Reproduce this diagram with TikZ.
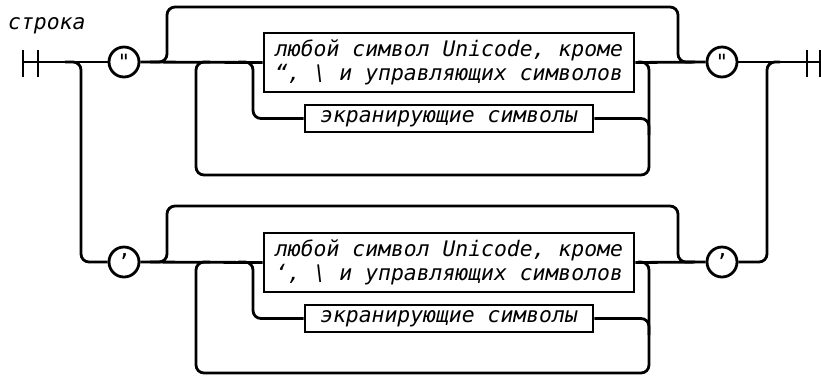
\documentclass[tikz,border=0pt]{standalone}
\usepackage{fontspec}
\usepackage{tikz}
\usetikzlibrary{positioning}
\newfontfamily\rrfont{DejaVu Sans Mono}

\begin{document}
\begin{tikzpicture}[
      x=1pt, y=-1pt,
      rail/.style={line width=2.8pt, rounded corners=8pt},
      bar/.style={line width=2.8pt},
      term/.style={draw, circle, line width=2.8pt, minimum size=30pt, inner sep=0pt, font=\fontsize{21}{21}\selectfont\rrfont},
      nterm/.style={draw, line width=2.6pt, inner sep=0pt, align=left, font=\fontsize{21.4}{24}\selectfont\rrfont\itshape},
      title/.style={anchor=base west, inner sep=0pt, font=\fontsize{21.4}{24}\selectfont\rrfont\itshape}
  ]
    \useasboundingbox (0,0) rectangle (821,376);
    \node[title] (name) at (8,29) {строка};

    % ends
    \coordinate (in) at (23,62);
    \coordinate (out) at (820,62);
    \draw[bar] (23,50) -- (23,77);
    \draw[bar] (38,50) -- (38,77);
    \draw[bar] (807,50) -- (807,77);
    \draw[bar] (820,50) -- (820,77);

    % double quotes
    \node[term] (qA1) at (124,62) {"};
    \node[term] (qA2) at (722,62) {"};
    \node[nterm, minimum width=370pt, minimum height=59pt] (anyA) at (449,62.5)
      {любой символ Unicode, кроме\\“, \textbackslash{} и управляющих символов};
    \node[nterm, minimum width=288pt, minimum height=27pt] (escA) at (449,118.5) {экранирующие символы};
    \draw[rail] (in) -- (qA1.west);
    \draw[rail] (qA1.east) -- (anyA.west);
    \draw[rail] (anyA.east) -- (qA2.west);
    \draw[rail] (qA2.east) -- (out);
    \draw[rail] (150,62) -- (167,62) -- (167,7) -- (678,7) -- (678,62) -- (695,62);
    \draw[rail] (238,62) -- (253,62) |- (escA.west);
    \draw[rail] (escA.east) -| (649,135);
    \draw[rail] (638,62) -- (649,62) -- (649,175) -- (196,175) -- (196,62) -- (210,62);

    % single quotes
    \node[term] (qB1) at (124,262) {’};
    \node[term] (qB2) at (722,262) {’};
    \node[nterm, minimum width=370pt, minimum height=59pt] (anyB) at (449,262.5)
      {любой символ Unicode, кроме\\‘, \textbackslash{} и управляющих символов};
    \node[nterm, minimum width=288pt, minimum height=27pt] (escB) at (449,318.5) {экранирующие символы};
    \draw[rail] (65,62) -- (81,62) |- (qB1.west);
    \draw[rail] (qB1.east) -- (anyB.west);
    \draw[rail] (anyB.east) -- (qB2.west);
    \draw[rail] (qB2.east) -| (767,62) -- (780,62);
    \draw[rail] (150,262) -- (167,262) -- (167,206) -- (678,206) -- (678,262) -- (695,262);
    \draw[rail] (238,262) -- (253,262) |- (escB.west);
    \draw[rail] (escB.east) -| (649,335);
    \draw[rail] (638,262) -- (649,262) -- (649,373) -- (196,373) -- (196,262) -- (210,262);
  \end{tikzpicture}
\end{document}
